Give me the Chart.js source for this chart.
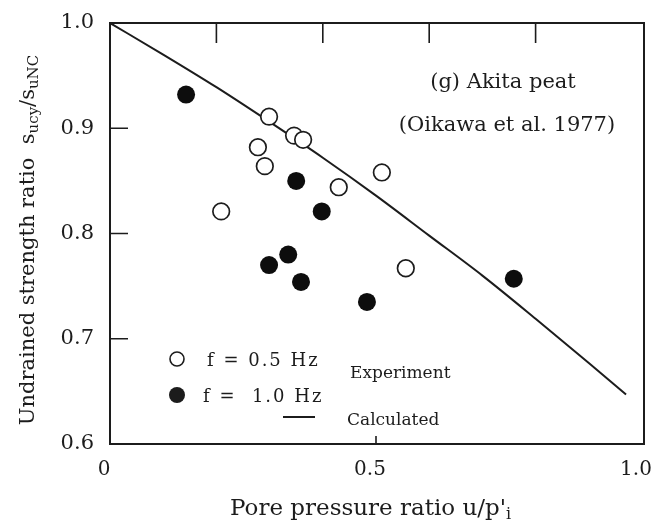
<!DOCTYPE html>
<html>
<head>
<meta charset="utf-8">
<script src="https://cdn.jsdelivr.net/npm/chart.js@4"></script>
<style>
  html, body { margin: 0; padding: 0; background: #ffffff; }
  #wrap { width: 656px; height: 523px; }
</style>
</head>
<body>
<div id="wrap"><canvas id="c" width="656" height="523"></canvas></div>
<script>
// ---- data ----
const openX   = [0.299, 0.346, 0.363, 0.278, 0.291, 0.209, 0.430, 0.511, 0.556];
const openY   = [0.911, 0.893, 0.889, 0.882, 0.864, 0.821, 0.844, 0.858, 0.767];
const filledX = [0.143, 0.350, 0.398, 0.299, 0.335, 0.359, 0.483, 0.759];
const filledY = [0.932, 0.850, 0.821, 0.770, 0.780, 0.754, 0.735, 0.757];
const calcX   = [0.00, 0.10, 0.20, 0.30, 0.40, 0.50, 0.60, 0.70, 0.80, 0.90, 0.97];
const calcY   = [1.000, 0.970, 0.939, 0.906, 0.872, 0.836, 0.798, 0.760, 0.719, 0.677, 0.647];
const xTickValues = [0, 0.5, 1.0];
const xTickLabels = ['0', '0.5', '1.0'];
const yTickValues = [0.6, 0.7, 0.8, 0.9, 1.0];
const yTickLabels = ['0.6', '0.7', '0.8', '0.9', '1.0'];
const topTickValues = [0.2, 0.4, 0.6, 0.8];
const leftTickValues = [0.7, 0.8, 0.9];
const bottomTickValues = [0.5];
const legendLabels = ['f = 0.5 Hz', 'f =  1.0 Hz', 'Experiment', 'Calculated'];
const noteLines = ['(g) Akita peat', '(Oikawa et al. 1977)'];

const INK = '#1c1c1c';
const SERIF = '"DejaVu Serif", serif';

function pts(xs, ys) { return xs.map((x, i) => ({ x: x, y: ys[i] })); }

function segWidth(ctx, segs) {
  let w = 0;
  for (const s of segs) { ctx.font = s.font; w += ctx.measureText(s.t).width; }
  return w;
}
function drawSegs(ctx, segs, x, y) {
  let cx = x;
  for (const s of segs) {
    ctx.font = s.font;
    ctx.fillText(s.t, cx, y + (s.dy || 0));
    cx += ctx.measureText(s.t).width;
  }
}

const decor = {
  id: 'decor',
  afterDraw(chart) {
    const ctx = chart.ctx;
    const a = chart.chartArea;
    const xs = chart.scales.x, ys = chart.scales.y;
    ctx.save();
    ctx.strokeStyle = INK;
    ctx.fillStyle = INK;
    // frame
    ctx.lineWidth = 2;
    ctx.strokeRect(a.left, a.top, a.right - a.left + 2, a.bottom - a.top);
    // inward ticks
    ctx.lineWidth = 1.6;
    ctx.beginPath();
    for (const v of topTickValues) {
      const px = xs.getPixelForValue(v);
      ctx.moveTo(px, a.top); ctx.lineTo(px, a.top + 20);
    }
    for (const v of leftTickValues) {
      const py = ys.getPixelForValue(v);
      ctx.moveTo(a.left, py); ctx.lineTo(a.left + 18, py);
    }
    for (const v of bottomTickValues) {
      const px = xs.getPixelForValue(v);
      ctx.moveTo(px, a.bottom); ctx.lineTo(px, a.bottom - 8);
    }
    ctx.stroke();

    // x axis title
    const big = '23px ' + SERIF, sub = '16px ' + SERIF;
    ctx.textBaseline = 'alphabetic';
    ctx.textAlign = 'left';
    const xt = [{ t: "Pore pressure ratio u/p'", font: big }, { t: 'i', font: sub, dy: 4 }];
    drawSegs(ctx, xt, 230, 515);

    // y axis title
    const yb = '21px ' + SERIF, ysb = '15px ' + SERIF;
    const yt = [
      { t: 'Undrained strength ratio  s', font: yb },
      { t: 'ucy', font: ysb, dy: 4 },
      { t: '/s', font: yb },
      { t: 'uNC', font: ysb, dy: 4 }
    ];
    ctx.save();
    ctx.translate(34, 240);
    ctx.rotate(-Math.PI / 2);
    drawSegs(ctx, yt, -segWidth(ctx, yt) / 2, 0);
    ctx.restore();

    // annotation
    ctx.font = '21px ' + SERIF;
    ctx.textAlign = 'center';
    ctx.fillText(noteLines[0], 503, 88);
    ctx.fillText(noteLines[1], 507, 131);

    // legend
    ctx.textAlign = 'left';
    ctx.lineWidth = 1.6;
    ctx.beginPath();
    ctx.arc(177, 359, 7, 0, Math.PI * 2);
    ctx.fillStyle = '#ffffff';
    ctx.fill();
    ctx.stroke();
    ctx.fillStyle = INK;
    ctx.beginPath();
    ctx.arc(177, 395, 8, 0, Math.PI * 2);
    ctx.fill();
    ctx.font = '18px ' + SERIF;
    if ('letterSpacing' in ctx) ctx.letterSpacing = '2px';
    ctx.fillText(legendLabels[0], 207, 366);
    ctx.fillText(legendLabels[1], 203, 402);
    if ('letterSpacing' in ctx) ctx.letterSpacing = '0px';
    ctx.font = '17px ' + SERIF;
    ctx.fillText(legendLabels[2], 350, 378);
    ctx.fillText(legendLabels[3], 347, 425);
    ctx.lineWidth = 2;
    ctx.beginPath();
    ctx.moveTo(283, 417); ctx.lineTo(315, 417);
    ctx.stroke();
    ctx.restore();
  }
};

new Chart(document.getElementById('c'), {
  type: 'scatter',
  data: {
    datasets: [
      {
        label: 'f = 0.5 Hz',
        data: pts(openX, openY),
        pointStyle: 'circle',
        pointRadius: 8.3,
        pointBorderWidth: 1.7,
        pointBackgroundColor: '#ffffff',
        pointBorderColor: INK,
        showLine: false
      },
      {
        label: 'f = 1.0 Hz',
        data: pts(filledX, filledY),
        pointStyle: 'circle',
        pointRadius: 9,
        pointBorderWidth: 0,
        pointBackgroundColor: '#0d0d0d',
        pointBorderColor: '#0d0d0d',
        showLine: false
      },
      {
        label: 'Calculated',
        data: pts(calcX, calcY),
        showLine: true,
        pointRadius: 0,
        borderColor: INK,
        borderWidth: 2,
        cubicInterpolationMode: 'monotone',
        fill: false
      }
    ]
  },
  options: {
    responsive: false,
    animation: false,
    devicePixelRatio: 1,
    layout: { padding: { top: 23, right: 14, left: 0, bottom: 0 } },
    plugins: { legend: { display: false }, tooltip: { enabled: false } },
    scales: {
      x: {
        type: 'linear',
        min: 0, max: 1.0,
        grid: { display: false, drawTicks: false },
        border: { display: false },
        afterBuildTicks(s) { s.ticks = xTickValues.map(v => ({ value: v })); },
        afterFit(s) { s.height = 79; s.paddingLeft = 0; s.paddingRight = 0; },
        ticks: {
          padding: 14,
          color: INK,
          font: { family: 'DejaVu Serif', size: 20 },
          maxRotation: 0,
          autoSkip: false,
          labelOffset: -6,
          callback(v) { const i = xTickValues.indexOf(v); return i >= 0 ? xTickLabels[i] : ''; }
        }
      },
      y: {
        type: 'linear',
        min: 0.6, max: 1.0,
        grid: { display: false, drawTicks: false },
        border: { display: false },
        afterBuildTicks(s) { s.ticks = yTickValues.map(v => ({ value: v })); },
        afterFit(s) { s.width = 110; s.paddingTop = 0; s.paddingBottom = 0; },
        ticks: {
          padding: 16,
          color: INK,
          font: { family: 'DejaVu Serif', size: 21 },
          autoSkip: false,
          callback(v) {
            const i = yTickValues.findIndex(t => Math.abs(t - v) < 1e-9);
            return i >= 0 ? yTickLabels[i] : '';
          }
        }
      }
    }
  },
  plugins: [decor]
});
</script>
</body>
</html>
